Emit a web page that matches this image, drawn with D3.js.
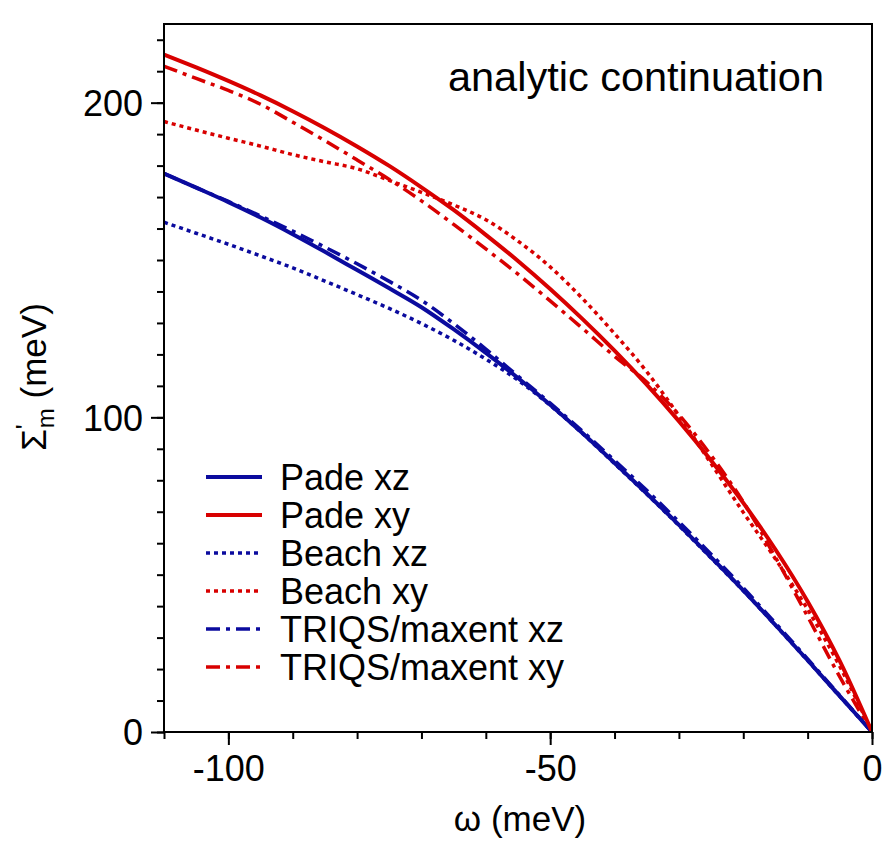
<!DOCTYPE html>
<html>
<head>
<meta charset="utf-8">
<script src="https://cdn.jsdelivr.net/npm/d3@7"></script>
<style>
  body { margin: 0; background: #fff; }
  text { font-family: "Liberation Sans", Arial, Helvetica, sans-serif; fill: #000; }
</style>
</head>
<body>
<div id="chart"></div>
<script>
// omega grid (meV)
const omega = [-110, -105, -100, -95, -90, -85, -80, -75, -70, -65, -60, -55, -50, -45, -40, -35, -30, -25, -20, -15, -10, -5, 0];

// Sigma'_m (meV)
const padeXZ   = [177.5, 173, 168.4, 163.5, 158.2, 152.6, 146.8, 141, 135, 128, 120.5, 112.5, 104, 95, 85.5, 75.8, 65.8, 55.5, 45, 34, 22.8, 11.4, 0];
const padeXY   = [215.3, 211.2, 206.9, 202.3, 197.3, 191.9, 186.1, 179.9, 173.1, 165.9, 158, 149.7, 140.8, 131.3, 121.2, 110.4, 98.8, 86.3, 72.8, 58, 41.5, 22.5, 0];
const beachXZ  = [162, 158.5, 155, 151.3, 147.5, 143.3, 139, 134.6, 129.8, 124.5, 118.5, 111.8, 103.8, 94.9, 85.3, 75.6, 65.6, 55.3, 44.9, 33.9, 22.7, 11.3, 0];
const beachXY  = [194, 191.3, 188.7, 186.2, 183.5, 181.2, 179, 175.3, 171.5, 167.5, 162.8, 156, 147.8, 137.8, 126.6, 114.5, 100.5, 85.3, 69.8, 55, 39, 20.8, 0];
const triqsXZ  = [177.5, 173, 168.6, 164, 159.2, 154.1, 148.8, 143.2, 137.2, 129.8, 121.7, 113.1, 104.5, 95.6, 86.3, 76.8, 66.8, 56.5, 45.8, 34.6, 23.2, 11.6, 0];
const triqsXY  = [211.6, 207.7, 203.9, 199.5, 193.8, 187.9, 181.8, 175.6, 168.8, 161.3, 153.5, 145.5, 137, 128.3, 119.4, 111.2, 100.8, 87.9, 73.1, 55.5, 36.7, 17.5, 0];

const seriesNames = ["Pade xz", "Pade xy", "Beach xz", "Beach xy", "TRIQS/maxent xz", "TRIQS/maxent xy"];
const seriesValues = [padeXZ, padeXY, beachXZ, beachXY, triqsXZ, triqsXY];

const xMajor = [-100, -50, 0];
const xMinor = [-110, -100, -90, -80, -70, -60, -50, -40, -30, -20, -10, 0];
const yMajor = [0, 100, 200];
const yMinor = [0, 10, 20, 30, 40, 50, 60, 70, 80, 90, 100, 110, 120, 130, 140, 150, 160, 170, 180, 190, 200, 210, 220];

const blue = "#0b0b9e";
const red = "#d80000";
const styles = [
  { color: blue, dash: null, width: 4 },
  { color: red, dash: null, width: 4 },
  { color: blue, dash: "4,4", width: 3.5 },
  { color: red, dash: "4,4", width: 3.5 },
  { color: blue, dash: "14,6,4,6", width: 3.5 },
  { color: red, dash: "14,6,4,6", width: 3.5 }
];

const W = 894, H = 855;
const m = { left: 164, right: 872, top: 24, bottom: 732 };

const svg = d3.select("#chart").append("svg")
    .attr("width", W)
    .attr("height", H);

const x = d3.scaleLinear().domain([-110, 0]).range([m.left, m.right]);
const y = d3.scaleLinear().domain([0, 225]).range([m.bottom, m.top]);

// clip for curves
svg.append("clipPath").attr("id", "clip")
  .append("rect")
    .attr("x", m.left).attr("y", m.top)
    .attr("width", m.right - m.left).attr("height", m.bottom - m.top);

const line = d3.line()
    .x(d => x(d[0]))
    .y(d => y(d[1]))
    .curve(d3.curveMonotoneX);

// draw order: dotted/dash-dot underneath solid
const order = [2, 3, 4, 5, 0, 1];
order.forEach(i => {
    const pts = omega.map((w, k) => [w, seriesValues[i][k]]);
    svg.append("path")
        .datum(pts)
        .attr("clip-path", "url(#clip)")
        .attr("fill", "none")
        .attr("stroke", styles[i].color)
        .attr("stroke-width", styles[i].width)
        .attr("stroke-dasharray", styles[i].dash)
        .attr("stroke-linejoin", "round")
        .attr("d", line);
});

// axes
const fmt = d => String(d);

const xMinorAxis = svg.append("g")
    .attr("transform", "translate(0," + m.bottom + ")")
    .call(d3.axisBottom(x).tickValues(xMinor).tickSize(7).tickFormat(""));
const xMajorAxis = svg.append("g")
    .attr("transform", "translate(0," + m.bottom + ")")
    .call(d3.axisBottom(x).tickValues(xMajor).tickSize(13).tickPadding(10).tickFormat(fmt));

const yMinorAxis = svg.append("g")
    .attr("transform", "translate(" + m.left + ",0)")
    .call(d3.axisLeft(y).tickValues(yMinor).tickSize(7).tickFormat(""));
const yMajorAxis = svg.append("g")
    .attr("transform", "translate(" + m.left + ",0)")
    .call(d3.axisLeft(y).tickValues(yMajor).tickSize(13).tickPadding(8).tickFormat(fmt));

[xMinorAxis, xMajorAxis, yMinorAxis, yMajorAxis].forEach(g => {
    g.select(".domain").remove();
    g.selectAll(".tick line").attr("stroke", "#000").attr("stroke-width", 2);
    g.selectAll(".tick text")
        .style("font-family", '"Liberation Sans", Arial, sans-serif')
        .style("font-size", "36px")
        .attr("fill", "#000");
});
yMajorAxis.selectAll(".tick text").attr("dy", "0.36em");

// frame
svg.append("rect")
    .attr("x", m.left).attr("y", m.top)
    .attr("width", m.right - m.left).attr("height", m.bottom - m.top)
    .attr("fill", "none")
    .attr("stroke", "#000")
    .attr("stroke-width", 2);

// axis titles
svg.append("text")
    .attr("x", 520).attr("y", 831)
    .attr("text-anchor", "middle")
    .style("font-size", "35px")
    .text("ω (meV)");

const yt = svg.append("text")
    .attr("transform", "translate(46,377) rotate(-90)")
    .attr("text-anchor", "middle")
    .style("font-size", "35px");
yt.append("tspan").text("Σ");
yt.append("tspan").attr("dy", -12).style("font-size", "26px").text("'");
yt.append("tspan").attr("dx", -4).attr("dy", 20).style("font-size", "24px").text("m");
yt.append("tspan").attr("dy", -8).text(" (meV)");

// panel label
svg.append("text")
    .attr("x", 824).attr("y", 91)
    .attr("text-anchor", "end")
    .style("font-size", "41.5px")
    .text("analytic continuation");

// legend
const legendY = d3.scaleLinear().domain([0, 5]).range([477, 667]);
seriesNames.forEach((name, i) => {
    const cy = legendY(i);
    svg.append("line")
        .attr("x1", 206).attr("x2", 262)
        .attr("y1", cy).attr("y2", cy)
        .attr("stroke", styles[i].color)
        .attr("stroke-width", styles[i].width)
        .attr("stroke-dasharray", styles[i].dash);
    svg.append("text")
        .attr("x", 280).attr("y", cy + 13)
        .style("font-size", "36px")
        .text(name);
});
</script>
</body>
</html>
